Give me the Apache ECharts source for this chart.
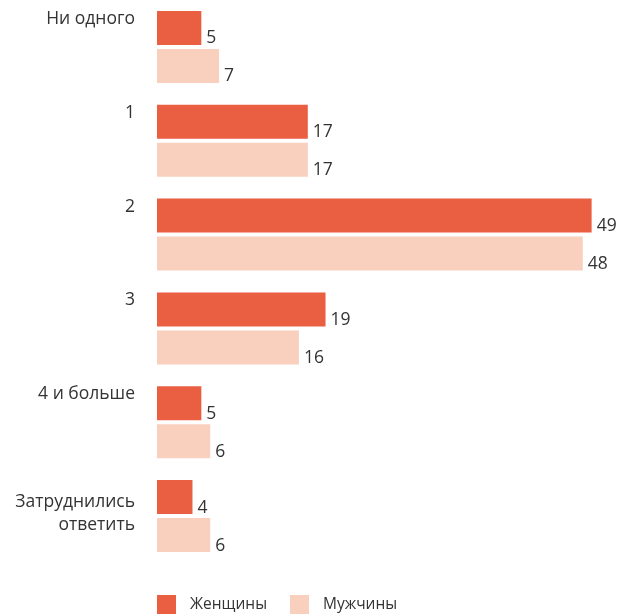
<!DOCTYPE html>
<html>
<head>
<meta charset="utf-8">
<script src="https://cdn.jsdelivr.net/npm/echarts@6/dist/echarts.min.js"></script>
<style>
	html, body { margin: 0; padding: 0; background: #fff; }
	#chart { width: 634px; height: 615px; }
</style>
</head>
<body>
<div id="chart"></div>
<script>
var categories = ['Ни одного', '1', '2', '3', '4 и больше', 'Затруднились\nответить'];
var seriesNames = ['Женщины', 'Мужчины'];
var women = [5, 17, 49, 19, 5, 4];
var men = [7, 17, 48, 16, 6, 6];

var chart = echarts.init(document.getElementById('chart'));

var valueLabel = {
	show: true,
	position: 'right',
	distance: 5,
	offset: [0, 10.5],
	color: '#333',
	fontFamily: 'Open Sans',
	fontSize: 17.5
};

var option = {
	animation: false,
	textStyle: {fontFamily: 'Open Sans'},
	legend: {
		data: seriesNames,
		left: 152,
		top: 590,
		itemWidth: 19,
		itemHeight: 19,
		itemGap: 23,
		icon: 'rect',
		textStyle: {color: '#333', fontSize: 15.5, padding: [0, 0, 0, 9]}
	},
	grid: {
		left: 157,
		top: -1,
		width: 443.5,
		height: 564,
		containLabel: false
	},
	xAxis: {
		type: 'value',
		min: 0,
		max: 50,
		show: false
	},
	yAxis: {
		type: 'category',
		inverse: true,
		data: categories,
		axisLine: {show: false},
		axisTick: {show: false},
		splitLine: {show: false},
		axisLabel: {
			margin: 22,
			formatter: function(val){
				// single-line labels sit near the top of the group
				if(val.indexOf('\n') < 0) return '{one|' + val + '}';
				var parts = val.split('\n');
				return '{two|' + parts[0] + '}\n{two|' + parts[1] + '}';
			},
			rich: {
				one: {
					color: '#333',
					fontSize: 17.5,
					lineHeight: 23,
					fontFamily: 'Open Sans',
					padding: [0, 0, 56, 0]
				},
				two: {
					color: '#333',
					fontSize: 17.5,
					lineHeight: 23,
					fontFamily: 'Open Sans',
					padding: [0, 0, 5, 0]
				}
			}
		}
	},
	series: [
		{
			name: seriesNames[0],
			type: 'bar',
			data: women,
			barWidth: 34,
			barGap: '12%',
			itemStyle: {color: '#EA5E42'},
			label: valueLabel
		},
		{
			name: seriesNames[1],
			type: 'bar',
			data: men,
			barWidth: 34,
			barGap: '12%',
			itemStyle: {color: '#F9CFBE'},
			label: valueLabel
		}
	]
};

chart.setOption(option);
</script>
</body>
</html>
